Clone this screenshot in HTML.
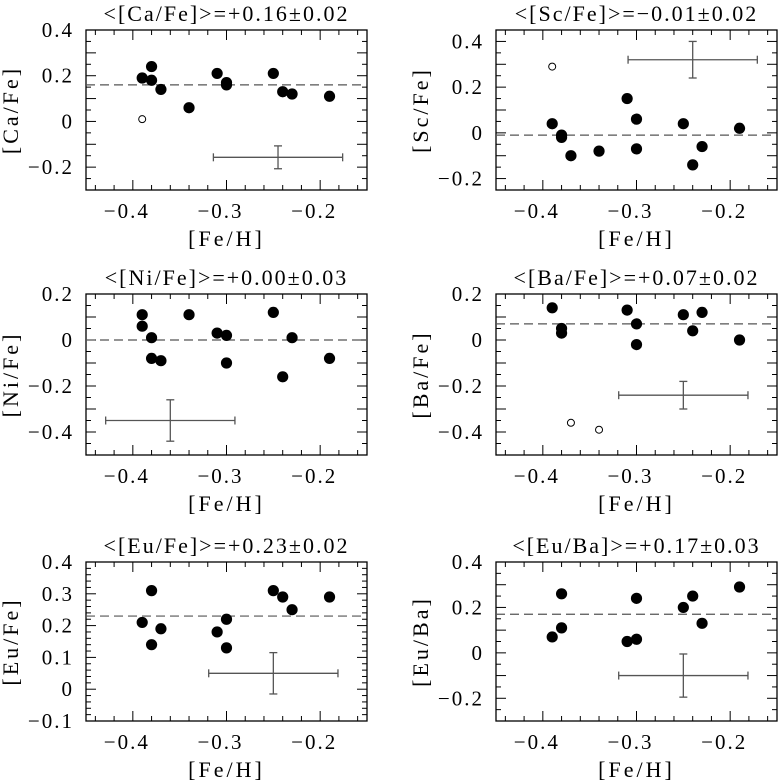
<!DOCTYPE html>
<html><head><meta charset="utf-8"><style>
body{margin:0;background:#fff}
svg{display:block}
text{font-family:"Liberation Serif","DejaVu Serif",serif;fill:#000}
</style></head>
<body>
<svg id="fig" width="778" height="781" viewBox="0 0 778 781" xmlns="http://www.w3.org/2000/svg"></svg>
<script>
// ---- data ----
const caX=[-0.39,-0.38,-0.38,-0.37,-0.34,-0.31,-0.30,-0.30,-0.25,-0.24,-0.23,-0.19];
const caY=[0.19,0.24,0.18,0.14,0.06,0.21,0.17,0.16,0.21,0.13,0.12,0.11];
const caOpenX=[-0.39], caOpenY=[0.01];
const scX=[-0.39,-0.38,-0.38,-0.37,-0.34,-0.31,-0.30,-0.30,-0.25,-0.24,-0.23,-0.19];
const scY=[0.04,-0.01,-0.02,-0.10,-0.08,0.15,0.06,-0.07,0.04,-0.14,-0.06,0.02];
const scOpenX=[-0.39], scOpenY=[0.29];
const niX=[-0.39,-0.39,-0.38,-0.38,-0.37,-0.34,-0.31,-0.30,-0.30,-0.25,-0.24,-0.23,-0.19];
const niY=[0.11,0.06,0.01,-0.08,-0.09,0.11,0.03,0.02,-0.10,0.12,-0.16,0.01,-0.08];
const baX=[-0.39,-0.38,-0.38,-0.31,-0.30,-0.30,-0.25,-0.24,-0.23,-0.19];
const baY=[0.14,0.05,0.03,0.13,0.07,-0.02,0.11,0.04,0.12,0.00];
const baOpenX=[-0.37,-0.34], baOpenY=[-0.36,-0.39];
const eufeX=[-0.39,-0.38,-0.38,-0.37,-0.31,-0.30,-0.30,-0.25,-0.24,-0.23,-0.19];
const eufeY=[0.21,0.31,0.14,0.19,0.18,0.22,0.13,0.31,0.29,0.25,0.29];
const eubaX=[-0.39,-0.38,-0.38,-0.31,-0.30,-0.30,-0.25,-0.24,-0.23,-0.19];
const eubaY=[0.07,0.26,0.11,0.05,0.06,0.24,0.20,0.25,0.13,0.29];
const means=[0.16,-0.01,0.00,0.07,0.23,0.17];
const titles=["<[Ca/Fe]>=+0.16±0.02","<[Sc/Fe]>=−0.01±0.02","<[Ni/Fe]>=+0.00±0.03","<[Ba/Fe]>=+0.07±0.02","<[Eu/Fe]>=+0.23±0.02","<[Eu/Ba]>=+0.17±0.03"];
const yTitles=["[Ca/Fe]","[Sc/Fe]","[Ni/Fe]","[Ba/Fe]","[Eu/Fe]","[Eu/Ba]"];
// error bar: [xc, yc, xerr, yerr]
const errBars=[[-0.245,-0.157,0.069,0.05],[-0.24,0.32,0.069,0.08],[-0.36,-0.35,0.069,0.09],[-0.25,-0.24,0.069,0.06],[-0.25,0.05,0.069,0.065],[-0.25,-0.10,0.069,0.095]];
const xTickVals=[-0.4,-0.3,-0.2];
const xTickLabels=["−0.4","−0.3","−0.2"];
const yTickVals=[[0.4,0.2,0,-0.2],[0.4,0.2,0,-0.2],[0.2,0,-0.2,-0.4],[0.2,0,-0.2,-0.4],[0.4,0.3,0.2,0.1,0,-0.1],[0.4,0.2,0,-0.2]];
const yTickLabels=[["0.4","0.2","0","−0.2"],["0.4","0.2","0","−0.2"],["0.2","0","−0.2","−0.4"],["0.2","0","−0.2","−0.4"],["0.4","0.3","0.2","0.1","0","−0.1"],["0.4","0.2","0","−0.2"]];
const yRanges=[[-0.3,0.4],[-0.25,0.45],[-0.5,0.2],[-0.5,0.2],[-0.1,0.4],[-0.3,0.4]];
const panelsFilled=[[caX,caY],[scX,scY],[niX,niY],[baX,baY],[eufeX,eufeY],[eubaX,eubaY]];
const panelsOpen=[[caOpenX,caOpenY],[scOpenX,scOpenY],[[],[]],[baOpenX,baOpenY],[[],[]],[[],[]]];
const names=["ca-fe","sc-fe","ni-fe","ba-fe","eu-fe","eu-ba"];

const NS="http://www.w3.org/2000/svg";
const svg=document.getElementById('fig');
function mk(tag,attrs,parent){const e=document.createElementNS(NS,tag);for(const k in attrs)e.setAttribute(k,attrs[k]);parent.appendChild(e);return e;}
const lefts=[86,496], tops=[30,294,562], bots=[190,455,721], W=281;
for(let p=0;p<6;p++){
  const col=p%2,row=Math.floor(p/2);
  const L=lefts[col],R=L+W,T=tops[row],B=bots[row];
  const [y0,y1]=yRanges[p];
  const sx=v=>L+(v+0.45)/0.30*W;
  const sy=v=>B-(v-y0)/(y1-y0)*(B-T);
  const g=mk('g',{},svg);
  
  
  const fr=mk('rect',{x:L,y:T,width:W,height:B-T,fill:'none',stroke:'#000','stroke-width':1.3},g);
  
  
  for(let i=-22;i<=-8;i++){const v=i*0.02;const xx=sx(v);if(xx<L+1||xx>R-1)continue;
    const major=Math.abs(Math.round(v*10)-v*10)<1e-6;const len=major?10:5;
    mk('line',{x1:xx,y1:B,x2:xx,y2:B-len,stroke:'#000','stroke-width':1},g);
    mk('line',{x1:xx,y1:T,x2:xx,y2:T+len,stroke:'#000','stroke-width':1},g);}
  const step=(p===4)?0.02:0.05;
  for(let i=Math.ceil(y0/step-1e-6);i<=Math.floor(y1/step+1e-6);i++){const v=i*step;const yy=sy(v);if(yy<T+1||yy>B-1)continue;
    const major=Math.abs(Math.round(v*10)-v*10)<1e-6;const len=major?10:5;
    mk('line',{x1:L,y1:yy,x2:L+len,y2:yy,stroke:'#000','stroke-width':1},g);
    mk('line',{x1:R,y1:yy,x2:R-len,y2:yy,stroke:'#000','stroke-width':1},g);}
  xTickVals.forEach((v,i)=>{const t=mk('text',{x:sx(v)-6,y:B+28,'font-size':21,'letter-spacing':2,'text-anchor':'middle'},g);t.textContent=xTickLabels[i];
    
    });
  yTickVals[p].forEach((v,i)=>{const t=mk('text',{x:L-12,y:sy(v)+7,'font-size':21,'letter-spacing':2,'text-anchor':'end'},g);t.textContent=yTickLabels[p][i];
    
    });
  const tt=mk('text',{x:L+W/2,y:T-9,'font-size':22,'letter-spacing':2,'text-anchor':'middle'},g);tt.textContent=titles[p];
  
  
  const xt=mk('text',{x:L+W/2,y:B+56,'font-size':22,'letter-spacing':3,'text-anchor':'middle'},g);xt.textContent='[Fe/H]';
  
  
  const ycx=L-68, ycy=(T+B)/2;
  const yt=mk('text',{x:ycx,y:ycy,'font-size':22,'letter-spacing':3,'text-anchor':'middle',transform:`rotate(-90 ${ycx} ${ycy})`},g);yt.textContent=yTitles[p];
  
  
  const ml=mk('line',{x1:L,y1:sy(means[p]),x2:R,y2:sy(means[p]),stroke:'#555','stroke-width':1.2,'stroke-dasharray':'9,5'},g);
  
  
  const [xc,yc,xe,ye]=errBars[p];
  const eg=mk('g',{stroke:'#555','stroke-width':1.3},g);
  
  
  mk('line',{x1:sx(xc-xe),y1:sy(yc),x2:sx(xc+xe),y2:sy(yc)},eg);
  mk('line',{x1:sx(xc),y1:sy(yc-ye),x2:sx(xc),y2:sy(yc+ye)},eg);
  mk('line',{x1:sx(xc-xe),y1:sy(yc)-4,x2:sx(xc-xe),y2:sy(yc)+4},eg);
  mk('line',{x1:sx(xc+xe),y1:sy(yc)-4,x2:sx(xc+xe),y2:sy(yc)+4},eg);
  mk('line',{x1:sx(xc)-4,y1:sy(yc-ye),x2:sx(xc)+4,y2:sy(yc-ye)},eg);
  mk('line',{x1:sx(xc)-4,y1:sy(yc+ye),x2:sx(xc)+4,y2:sy(yc+ye)},eg);
  const [fx,fy]=panelsFilled[p];
  fx.forEach((v,i)=>{const c=mk('circle',{cx:sx(v),cy:sy(fy[i]),r:5.6,fill:'#000'},g);
    
    });
  const [ox,oy]=panelsOpen[p];
  ox.forEach((v,i)=>{const c=mk('circle',{cx:sx(v),cy:sy(oy[i]),r:3.5,fill:'none',stroke:'#000','stroke-width':1},g);
    
    });
}
</script>
</body></html>
